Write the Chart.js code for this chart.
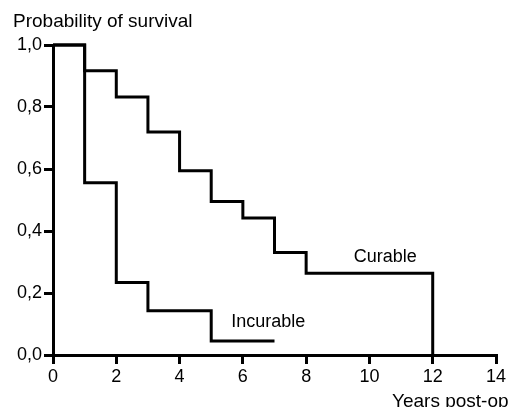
<!DOCTYPE html>
<html>
<head>
<meta charset="utf-8">
<script src="https://cdn.jsdelivr.net/npm/chart.js@4"></script>
<style>
  html, body { margin: 0; padding: 0; background: #fff; }
  #wrap { width: 509px; height: 407px; }
</style>
</head>
<body>
<div id="wrap"><canvas id="survivalChart" width="509" height="407"></canvas></div>
<script>
// Kaplan-Meier style survival curves
const curableYears = [0, 1, 2, 3, 4, 5, 6, 7, 8, 12];
const curableSurvival = [1.0, 0.917, 0.832, 0.719, 0.594, 0.495, 0.442, 0.331, 0.264, 0.0];
const incurableYears = [0, 1, 2, 3, 5, 7];
const incurableSurvival = [1.0, 0.556, 0.234, 0.143, 0.045, 0.045];
const xTicks = [0, 2, 4, 6, 8, 10, 12, 14];
const yTicks = [0, 0.2, 0.4, 0.6, 0.8, 1.0];

const FONT = "'Liberation Sans', Arial, Helvetica, sans-serif";

function toPoints(xs, ys) {
  return xs.map((x, i) => ({ x: x, y: ys[i] }));
}

// Text annotations (title, axis label, curve names)
const textPlugin = {
  id: "figureText",
  afterDraw(chart) {
    const ctx = chart.ctx;
    const xs = chart.scales.x;
    const ys = chart.scales.y;
    ctx.save();
    ctx.fillStyle = "#000";
    ctx.font = "19px " + FONT;
    ctx.textBaseline = "middle";
    ctx.textAlign = "left";
    ctx.fillText("Probability of survival", 13, 22);
    ctx.font = "18px " + FONT;
    ctx.textAlign = "center";
    ctx.fillText("Curable", xs.getPixelForValue(10.5), ys.getPixelForValue(0.316));
    ctx.fillText("Incurable", xs.getPixelForValue(6.8), ys.getPixelForValue(0.105));
    ctx.font = "19px " + FONT;
    ctx.textAlign = "left";
    ctx.textBaseline = "alphabetic";
    ctx.fillText("Years post-op", 392, 407);
    ctx.restore();
  }
};

const axisStyle = {
  border: { display: true, color: "#000", width: 3 },
  grid: {
    drawOnChartArea: false,
    drawTicks: true,
    tickLength: 9,
    lineWidth: 3,
    tickWidth: 3,
    color: "#000",
    tickColor: "#000"
  }
};

new Chart(document.getElementById("survivalChart").getContext("2d"), {
  type: "line",
  data: {
    datasets: [
      {
        label: "Curable",
        data: toPoints(curableYears, curableSurvival),
        stepped: true,
        borderColor: "#000",
        borderWidth: 3,
        pointRadius: 0,
        fill: false,
        clip: 6
      },
      {
        label: "Incurable",
        data: toPoints(incurableYears, incurableSurvival),
        stepped: true,
        borderColor: "#000",
        borderWidth: 3,
        pointRadius: 0,
        fill: false,
        clip: 6
      }
    ]
  },
  options: {
    responsive: false,
    animation: false,
    layout: { padding: { left: 0, right: 13, top: 45, bottom: 0 } },
    plugins: {
      legend: { display: false },
      tooltip: { enabled: false },
      title: { display: false }
    },
    scales: {
      x: {
        type: "linear",
        min: 0,
        max: 14,
        ...axisStyle,
        afterBuildTicks: (scale) => { scale.ticks = xTicks.map(v => ({ value: v })); },
        afterFit: (scale) => { scale.height = 52; },
        ticks: {
          color: "#000",
          padding: 2,
          font: { family: FONT, size: 18 },
          callback: (v) => String(v)
        }
      },
      y: {
        type: "linear",
        min: 0,
        max: 1,
        ...axisStyle,
        afterBuildTicks: (scale) => { scale.ticks = yTicks.map(v => ({ value: v })); },
        afterFit: (scale) => { scale.width = 53; },
        ticks: {
          color: "#000",
          padding: 2,
          font: { family: FONT, size: 18 },
          callback: (v) => Number(v).toFixed(1).replace(".", ",")
        }
      }
    }
  },
  plugins: [textPlugin]
});
</script>
</body>
</html>
